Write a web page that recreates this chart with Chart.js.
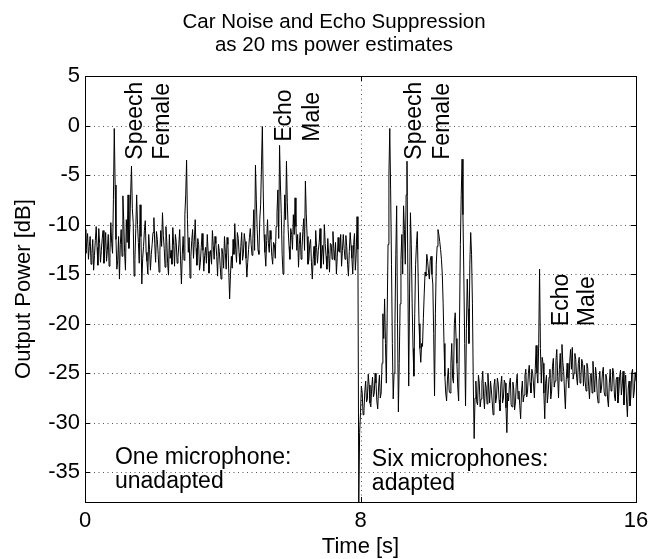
<!DOCTYPE html>
<html><head><meta charset="utf-8">
<script src="https://cdn.jsdelivr.net/npm/chart.js@4"></script>
<style>html,body{margin:0;padding:0;background:#fff}#wrap{width:667px;height:559px}</style>
</head><body><div id="wrap"><canvas id="c" width="667" height="559"></canvas></div>
<script>
// ---- data ----
const sampleStep = 0.025; // seconds between plotted estimates
// one microphone, unadapted: 0.000 s ... 7.975 s
const powerOneMic = [
 -10.5,-12.9,-11.8,-10.9,-13.5,-12.2,-11.2,-14.0,-12.9,-11.5,-14.6,-13.1,-11.6,-10.2,-12.3,-14.1,-10.4,-11.9,-13.8,-12.6,
 -11.4,-10.6,-13.9,-12.4,-10.8,-13.7,-12.6,-11.0,-14.2,-12.8,-9.8,-11.9,-12.9,-7.5,-0.3,-6.0,-11.5,-14.5,-13.6,-11.2,
 -15.5,-12.0,-10.5,-13.2,-7.1,-9.6,-12.8,-14.6,-9.5,-11.8,-7.0,-12.4,-10.5,-6.9,-4.1,-8.4,-9.8,-15.2,-13.5,-10.4,
 -7.0,-10.0,-11.8,-13.9,-8.0,-11.2,-16.0,-13.4,-12.2,-10.6,-9.6,-12.8,-13.7,-15.0,-11.0,-12.5,-14.6,-13.0,-12.0,-10.8,
 -9.3,-11.9,-13.8,-10.7,-11.5,-13.0,-14.8,-12.6,-10.6,-12.2,-8.8,-11.1,-12.4,-14.3,-10.2,-11.7,-13.9,-15.1,-11.0,-13.4,
 -12.6,-14.0,-10.3,-12.1,-14.2,-11.0,-11.8,-13.9,-13.3,-12.0,-10.5,-13.6,-16.0,-13.0,-11.2,-13.6,-9.0,-7.0,-3.5,-9.5,
 -12.8,-11.3,-15.4,-13.2,-11.6,-10.5,-13.4,-11.7,-9.5,-12.4,-14.1,-11.4,-12.0,-14.6,-13.8,-12.3,-10.9,-12.6,-14.7,-13.1,
 -12.3,-13.9,-11.0,-12.7,-14.9,-13.3,-12.6,-14.0,-10.6,-12.1,-13.5,-11.2,-11.9,-13.2,-15.2,-12.0,-12.7,-14.1,-15.5,-12.4,
 -13.0,-14.4,-11.2,-12.8,-14.5,-11.3,-12.0,-14.8,-17.5,-15.0,-13.2,-14.4,-11.5,-13.0,-9.9,-12.5,-13.8,-10.8,-11.4,-12.9,
 -14.0,-12.2,-10.8,-13.6,-12.9,-10.9,-11.7,-13.4,-15.3,-13.8,-12.5,-11.3,-10.4,-12.0,-13.1,-11.4,-8.5,-12.6,-4.0,-7.5,
 -10.5,-12.6,-13.0,-9.5,-8.0,-4.0,-0.1,-6.5,-11.0,-12.8,-14.2,-11.6,-9.5,-11.9,-12.8,-10.6,-11.5,-13.2,-14.0,-11.8,
 -12.0,-13.4,-10.2,-8.8,-6.5,-11.4,-2.0,-6.0,-9.0,-13.0,-15.0,-11.0,-7.0,-9.5,-3.6,-7.8,-10.5,-12.2,-13.5,-10.4,
 -11.0,-12.5,-9.0,-11.0,-7.3,-10.2,-12.6,-11.0,-14.3,-12.0,-10.8,-13.5,-12.5,-10.7,-9.4,-12.6,-5.6,-8.9,-11.2,-14.0,
 -13.6,-12.0,-11.5,-13.8,-15.5,-13.5,-12.2,-14.1,-10.6,-12.3,-13.9,-12.6,-11.8,-10.4,-14.4,-12.9,-12.1,-14.0,-10.0,-11.9,
 -13.2,-14.5,-11.4,-13.0,-14.8,-11.9,-12.0,-13.5,-10.7,-12.4,-13.6,-11.8,-15.0,-13.3,-11.3,-12.7,-12.8,-11.0,-14.2,-12.6,
 -11.0,-12.4,-13.5,-11.1,-12.2,-14.0,-15.2,-12.7,-10.8,-12.1,-13.4,-15.0,-12.0,-10.9,-14.6,-13.0,-9.2,-12.5,-38.0,-31.0
];
// six microphones, adapted: 8.000 s ... 16.000 s
const powerSixMic = [
 -29.0,-26.3,-27.0,-29.2,-28.8,-26.9,-25.8,-27.9,-27.6,-25.1,-26.2,-28.0,-28.4,-26.5,-25.4,-27.4,-27.0,-25.0,-26.0,-27.8,
 -28.6,-26.4,-25.2,-27.5,-27.0,-24.0,-19.0,-21.5,-17.5,-22.0,-26.0,-19.0,-12.0,-5.0,-0.3,-6.5,-14.0,-22.0,-27.6,-25.0,
 -20.0,-13.0,-8.1,-20.0,-28.9,-24.0,-18.0,-13.5,-11.0,-15.0,-8.1,-10.5,-14.0,-7.0,-3.6,-15.0,-26.3,-17.0,-8.8,-12.0,
 -18.0,-22.5,-25.3,-19.0,-14.0,-12.0,-10.7,-15.5,-20.0,-22.5,-23.9,-22.0,-22.3,-19.5,-17.0,-14.8,-15.2,-13.0,-13.7,-14.8,
 -15.5,-13.6,-13.2,-15.0,-16.0,-21.0,-27.3,-19.0,-14.0,-12.2,-10.5,-11.0,-11.7,-12.5,-13.5,-15.0,-18.0,-22.0,-25.3,-27.0,
 -27.8,-25.6,-24.5,-26.8,-27.0,-24.0,-22.0,-25.5,-26.0,-20.0,-18.9,-21.5,-24.0,-26.5,-27.8,-20.0,-12.0,-7.0,-3.4,-9.0,
 -15.0,-22.0,-28.3,-20.5,-15.5,-18.5,-22.0,-14.0,-10.8,-13.0,-18.0,-26.0,-31.6,-27.5,-25.8,-27.9,-28.2,-25.2,-26.0,-28.4,
 -27.6,-26.0,-24.8,-27.3,-28.6,-25.9,-26.4,-28.1,-25.0,-26.6,-28.0,-25.8,-26.7,-27.9,-29.2,-26.3,-25.6,-28.0,-27.4,-25.5,
 -26.1,-27.7,-28.8,-26.2,-25.3,-28.0,-27.5,-25.7,-26.0,-28.5,-31.0,-27.0,-27.8,-26.1,-25.5,-28.2,-28.4,-25.9,-26.6,-28.7,
 -27.9,-26.0,-25.1,-27.6,-26.8,-28.3,-29.6,-26.9,-25.8,-27.9,-27.2,-25.2,-24.6,-27.4,-26.9,-25.0,-24.2,-26.0,-27.0,-24.6,
 -25.0,-26.2,-27.5,-24.5,-22.2,-25.0,-26.0,-22.0,-14.5,-22.5,-26.0,-23.4,-24.0,-27.0,-29.6,-26.0,-25.2,-28.0,-27.0,-25.4,
 -24.6,-27.6,-26.8,-24.3,-23.5,-26.4,-25.8,-23.7,-22.6,-25.3,-27.5,-24.6,-23.0,-25.8,-22.1,-23.9,-24.8,-26.9,-28.6,-25.6,
 -24.0,-25.5,-26.5,-23.8,-22.6,-24.6,-22.4,-25.6,-25.0,-23.0,-23.6,-25.4,-26.2,-24.0,-23.4,-26.0,-25.5,-23.6,-24.0,-26.3,
 -24.2,-25.9,-26.8,-24.0,-24.5,-26.3,-27.6,-25.2,-25.0,-27.0,-23.8,-25.6,-26.9,-24.4,-25.2,-27.2,-28.0,-25.8,-24.8,-27.0,
 -26.4,-25.0,-24.4,-26.9,-27.3,-25.1,-25.6,-27.6,-28.4,-26.0,-24.6,-26.8,-26.6,-24.5,-25.0,-27.3,-27.8,-25.6,-25.4,-28.0,
 -27.0,-25.3,-24.7,-27.2,-26.2,-24.8,-28.2,-26.1,-25.2,-27.7,-29.4,-26.5,-25.8,-28.3,-27.4,-25.0,-24.6,-27.5,-26.8,-24.9,
 -25.8
];
const xTicks = [0, 8, 16];
const yTicks = [5, 0, -5, -10, -15, -20, -25, -30, -35];
const xRange = [0, 16];
const yRange = [-38, 5];
const titleLines = ['Car Noise and Echo Suppression', 'as 20 ms power estimates'];
const xTitle = 'Time [s]';
const yTitle = 'Output Power [dB]';
// rotated notes: text lines, time of each line, dB where text starts
const verticalNotes = [
  {lines: ['Speech', 'Female'], at: [1.48, 2.265], from: -3.45},
  {lines: ['Echo', 'Male'], at: [5.79, 6.61], from: -1.64},
  {lines: ['Speech', 'Female'], at: [9.58, 10.38], from: -3.45},
  {lines: ['Echo', 'Male'], at: [13.85, 14.59], from: -20.25}
];
// horizontal notes: lines, start time, baseline dB of each line
const boxNotes = [
  {lines: ['One microphone:', 'unadapted'], at: 0.87, base: [-34.2, -36.6]},
  {lines: ['Six microphones:', 'adapted'], at: 8.33, base: [-34.4, -36.8]}
];

// ---- build ----
const FONT = '"Liberation Sans", Arial, Helvetica, sans-serif';
const power = powerOneMic.concat(powerSixMic);
const points = power.map((v, i) => ({x: +(i * sampleStep).toFixed(3), y: v}));

const matlabLook = {
  id: 'matlabLook',
  beforeDatasetsDraw(chart) {
    const {ctx, chartArea: a, scales: {x, y}} = chart;
    ctx.save();
    ctx.strokeStyle = '#555';
    ctx.lineWidth = 1;
    ctx.setLineDash([1, 3.5]);
    yTicks.forEach(v => {
      const py = Math.round(y.getPixelForValue(v)) + 0.5;
      ctx.beginPath(); ctx.moveTo(a.left, py); ctx.lineTo(a.right, py); ctx.stroke();
    });
    xTicks.forEach(v => {
      const px = Math.round(x.getPixelForValue(v)) + 0.5;
      ctx.beginPath(); ctx.moveTo(px, a.top); ctx.lineTo(px, a.bottom); ctx.stroke();
    });
    ctx.restore();
  },
  afterDatasetsDraw(chart) {
    const {ctx, chartArea: a, scales: {x, y}} = chart;
    ctx.save();
    ctx.strokeStyle = '#000';
    ctx.lineWidth = 1;
    ctx.strokeRect(Math.round(a.left) + 0.5, Math.round(a.top) + 0.5,
                   Math.round(a.right - a.left), Math.round(a.bottom - a.top));
    const tl = 5;
    ctx.beginPath();
    yTicks.forEach(v => {
      const py = Math.round(y.getPixelForValue(v)) + 0.5;
      ctx.moveTo(a.left, py); ctx.lineTo(a.left + tl, py);
      ctx.moveTo(a.right, py); ctx.lineTo(a.right - tl, py);
    });
    xTicks.forEach(v => {
      const px = Math.round(x.getPixelForValue(v)) + 0.5;
      ctx.moveTo(px, a.bottom); ctx.lineTo(px, a.bottom - tl);
      ctx.moveTo(px, a.top); ctx.lineTo(px, a.top + tl);
    });
    ctx.stroke();

    ctx.fillStyle = '#000';
    ctx.font = '20.5px ' + FONT;
    ctx.textAlign = 'center';
    ctx.textBaseline = 'alphabetic';
    ctx.fillText(titleLines[0], 334, 28);
    ctx.fillText(titleLines[1], 334, 51);
    ctx.font = '22px ' + FONT;
    ctx.fillText(xTitle, (a.left + a.right) / 2, 553);
    ctx.save();
    ctx.translate(30, (a.top + a.bottom) / 2);
    ctx.rotate(-Math.PI / 2);
    ctx.fillText(yTitle, 0, 0);
    ctx.restore();
    ctx.font = '23px ' + FONT;
    verticalNotes.forEach(n => {
      n.lines.forEach((t, i) => {
        ctx.save();
        ctx.translate(x.getPixelForValue(n.at[i]), y.getPixelForValue(n.from));
        ctx.rotate(-Math.PI / 2);
        ctx.textAlign = 'left';
        ctx.textBaseline = 'middle';
        ctx.fillText(t, 0, 0);
        ctx.restore();
      });
    });
    ctx.textAlign = 'left';
    ctx.textBaseline = 'alphabetic';
    boxNotes.forEach(n => {
      n.lines.forEach((t, i) => {
        ctx.fillText(t, x.getPixelForValue(n.at), y.getPixelForValue(n.base[i]));
      });
    });
    ctx.restore();
  }
};

new Chart(document.getElementById('c'), {
  type: 'line',
  data: {datasets: [{data: points, borderColor: '#000', borderWidth: 1, pointRadius: 0, tension: 0, fill: false}]},
  options: {
    responsive: false, animation: false, devicePixelRatio: 1,
    layout: {padding: {top: 76, right: 31, left: 0, bottom: 0}},
    plugins: {legend: {display: false}, title: {display: false}, tooltip: {enabled: false}},
    scales: {
      x: {
        type: 'linear', min: xRange[0], max: xRange[1],
        afterBuildTicks: s => { s.ticks = xTicks.map(v => ({value: v})); },
        afterFit: s => { s.height = 57; },
        grid: {display: false, drawTicks: false}, border: {display: false},
        ticks: {font: {family: FONT, size: 22}, color: '#000', padding: 6, maxRotation: 0, autoSkip: false}
      },
      y: {
        type: 'linear', min: yRange[0], max: yRange[1],
        afterBuildTicks: s => { s.ticks = yTicks.map(v => ({value: v})); },
        afterFit: s => { s.width = 85; },
        grid: {display: false, drawTicks: false}, border: {display: false},
        ticks: {font: {family: FONT, size: 22}, color: '#000', padding: 5, autoSkip: false}
      }
    }
  },
  plugins: [matlabLook]
});
</script></body></html>
